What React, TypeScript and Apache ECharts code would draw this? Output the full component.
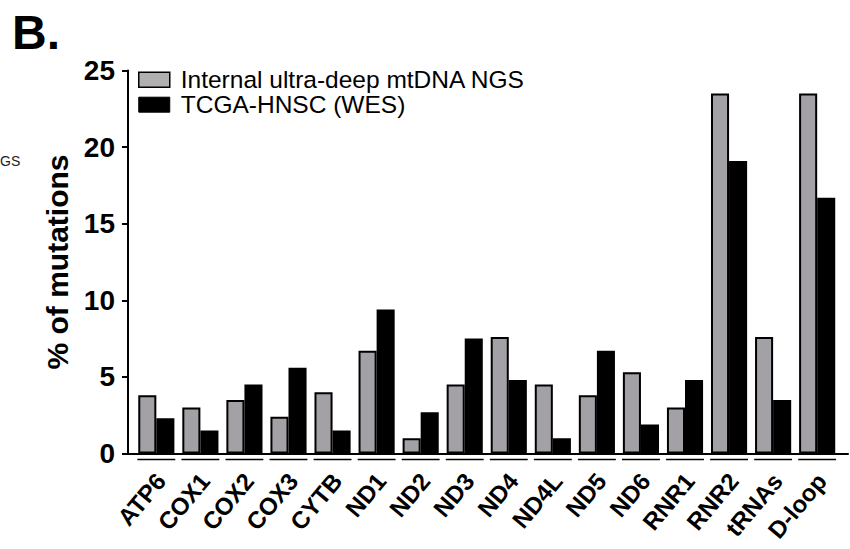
import React, { useEffect, useRef } from "react";
import * as echarts from "echarts";

const categories = ["ATP6", "COX1", "COX2", "COX3", "CYTB", "ND1", "ND2", "ND3", "ND4", "ND4L", "ND5", "ND6", "RNR1", "RNR2", "tRNAs", "D-loop"];
const internalNGS = [3.8, 3.0, 3.5, 2.4, 4.0, 6.7, 1.0, 4.5, 7.6, 4.5, 3.8, 5.3, 3.0, 23.5, 7.6, 23.5];
const tcgaWES = [2.3, 1.5, 4.5, 5.6, 1.5, 9.4, 2.7, 7.5, 4.8, 1.0, 6.7, 1.9, 4.8, 19.1, 3.5, 16.7];
const seriesNames = ["Internal ultra-deep mtDNA NGS", "TCGA-HNSC (WES)"];
const yTicks = { min: 0, max: 25, interval: 5 };

const FONT = "'Liberation Sans', Arial, Helvetica, sans-serif";

export default function App() {
  const ref = useRef<HTMLDivElement>(null);
  useEffect(() => {
    if (!ref.current) return;
    const chart = echarts.init(ref.current, null, { renderer: "svg" });
    const top = 70.5;
    const bottom = 95.5;
    const left = 134.3;
    const right = 10.8;
    const labelAngle = (50 * Math.PI) / 180;
    chart.setOption({
      animation: false,
      backgroundColor: "#fff",
      textStyle: { fontFamily: FONT },
      graphic: [
        { type: "text", left: 12, top: 8, style: { text: "B.", font: `bold 48px ${FONT}`, fill: "#000" } },
        {
          type: "text",
          x: 0,
          y: 161,
          style: { text: "GS", font: `14px ${FONT}`, fill: "#222", verticalAlign: "middle" },
        },
      ],
      legend: {
        orient: "vertical",
        left: 138,
        top: 67.2,
        padding: 0,
        itemWidth: 31,
        itemHeight: 15,
        itemGap: 0,
        icon: "rect",
        textStyle: { fontFamily: FONT, fontSize: 24.5, color: "#000", lineHeight: 24.6, padding: [0, 0, 0, 6] },
        data: [
          { name: seriesNames[0], itemStyle: { color: "#b2afaf", borderColor: "#000", borderWidth: 1.5 } },
          { name: seriesNames[1], itemStyle: { color: "#000", borderColor: "#000", borderWidth: 1 } },
        ],
      },
      grid: [
        { left, right, top, bottom },
        { left: 128, right: 2, top, bottom },
      ],
      xAxis: [
        {
          type: "category",
          gridIndex: 0,
          data: categories,
          axisLine: { show: false },
          axisTick: { show: false },
          axisLabel: { show: false },
        },
        {
          type: "value",
          gridIndex: 1,
          min: 0,
          max: 1,
          axisLine: { show: true, onZero: false, lineStyle: { color: "#000", width: 2 } },
          axisTick: { show: false },
          axisLabel: { show: false },
          splitLine: { show: false },
        },
      ],
      yAxis: [
        {
          type: "value",
          gridIndex: 0,
          min: yTicks.min,
          max: yTicks.max,
          interval: yTicks.interval,
          offset: 6.3,
          name: "% of mutations",
          nameLocation: "middle",
          nameGap: 56,
          nameTextStyle: { fontFamily: FONT, fontSize: 30, fontWeight: "bold", color: "#000" },
          axisLine: { show: true, lineStyle: { color: "#000", width: 2 } },
          axisTick: { show: true, length: 6, lineStyle: { color: "#000", width: 2 } },
          axisLabel: { margin: 13, fontFamily: FONT, fontSize: 28, fontWeight: "bold", color: "#000" },
          splitLine: { show: false },
        },
        { type: "value", gridIndex: 1, show: false },
      ],
      series: [
        {
          name: seriesNames[0],
          type: "bar",
          xAxisIndex: 0,
          yAxisIndex: 0,
          data: internalNGS,
          barGap: "0%",
          barCategoryGap: "18%",
          itemStyle: { color: "#a3a1a6", borderColor: "#000", borderWidth: 2 },
        },
        {
          name: seriesNames[1],
          type: "bar",
          xAxisIndex: 0,
          yAxisIndex: 0,
          data: tcgaWES,
          barGap: "0%",
          barCategoryGap: "18%",
          itemStyle: { color: "#000", borderColor: "#000", borderWidth: 2 },
        },
        {
          name: "brackets",
          type: "custom",
          xAxisIndex: 0,
          yAxisIndex: 0,
          clip: false,
          silent: true,
          data: categories.map((_, i) => [i, 0]),
          renderItem: (params: any, api: any) => {
            const i = api.value(0);
            const p = api.coord([i, 0]);
            const w = api.size([1, 0])[0];
            return {
              type: "group",
              children: [
                {
                  type: "line",
                  shape: { x1: p[0] - w * 0.43, y1: p[1] + 6, x2: p[0] + w * 0.43, y2: p[1] + 6 },
                  style: { stroke: "#000", lineWidth: 1.6 },
                },
                {
                  type: "text",
                  x: p[0] + 4.5,
                  y: p[1] + 23,
                  rotation: labelAngle,
                  style: {
                    text: categories[i],
                    align: "right",
                    verticalAlign: "middle",
                    font: `bold 24px ${FONT}`,
                    fill: "#000",
                  },
                },
              ],
            };
          },
        },
      ],
    });
    return () => chart.dispose();
  }, []);
  return <div ref={ref} style={{ width: 850, height: 549, position: "absolute", left: 0, top: 0 }} />;
}
